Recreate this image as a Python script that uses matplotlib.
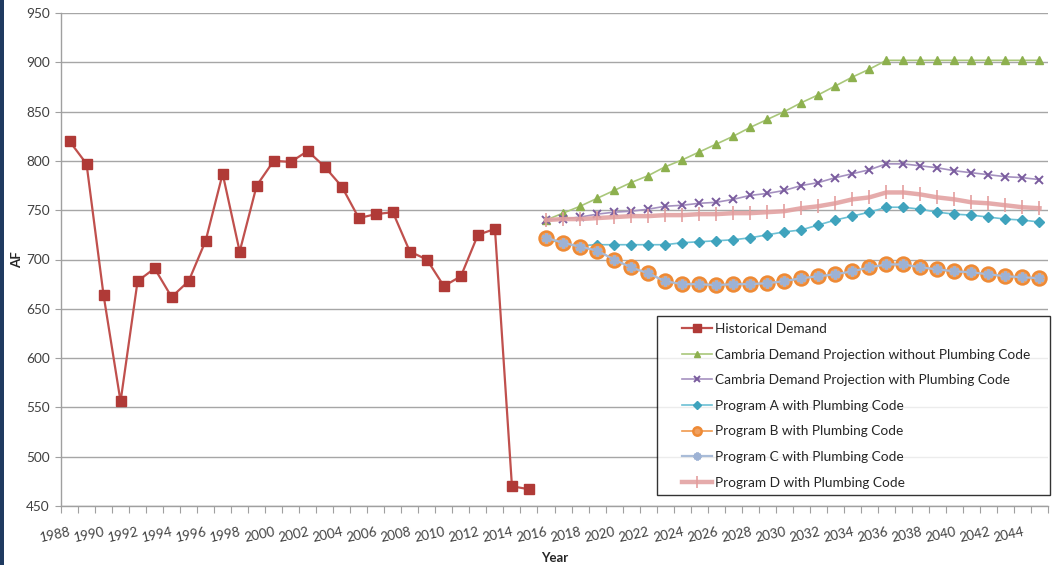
import matplotlib
matplotlib.use("Agg")
import matplotlib.pyplot as plt
from matplotlib.legend_handler import HandlerLine2D
from matplotlib.patches import Rectangle

plt.rcParams['font.family'] = ['Lato', 'DejaVu Sans']

hist_years = list(range(1988, 2016))
hist_vals = [820, 797, 664, 556, 678, 691, 662, 678, 719, 787, 708, 775, 800, 799,
             810, 794, 774, 742, 746, 748, 708, 700, 673, 683, 725, 731, 470, 467]

proj_years = list(range(2016, 2046))
no_code = [740, 747, 754, 762, 770, 778, 785, 794, 801, 809, 817, 825, 834, 842, 850,
           859, 867, 876, 885, 893, 902, 902, 902, 902, 902, 902, 902, 902, 902, 902]
with_code = [740, 741, 743, 746, 748, 749, 751, 754, 755, 757, 758, 761, 765, 767, 770,
             775, 778, 783, 787, 791, 797, 797, 795, 793, 790, 788, 786, 784, 783, 781]
prog_a = [721, 716, 714, 715, 715, 715, 715, 715, 717, 718, 719, 720, 722, 725, 728,
          730, 735, 740, 744, 748, 753, 753, 751, 748, 746, 745, 743, 741, 740, 738]
prog_b = [722, 717, 713, 709, 700, 692, 686, 678, 675, 675, 674, 675, 675, 676, 678,
          681, 683, 685, 688, 692, 695, 695, 692, 690, 688, 687, 685, 683, 682, 681]
prog_c = prog_b
prog_d = [740, 741, 741, 742, 743, 744, 744, 745, 745, 746, 746, 747, 747, 748, 749,
          752, 754, 757, 761, 763, 768, 768, 766, 763, 761, 758, 757, 755, 753, 752]

labels = ["Historical Demand",
          "Cambria Demand Projection without Plumbing Code",
          "Cambria Demand Projection with Plumbing Code",
          "Program A with Plumbing Code",
          "Program B with Plumbing Code",
          "Program C with Plumbing Code",
          "Program D with Plumbing Code"]

fig = plt.figure(figsize=(10.56, 5.65), dpi=100)
fig.patches.append(Rectangle((0, 0), 4/1056, 1, transform=fig.transFigure,
                             facecolor='#1F3A60', edgecolor='none'))
ax = fig.add_axes([61/1056, 59/565, 987/1056, 493/565])

l1, = ax.plot(hist_years, hist_vals, color='#C0504D', lw=1.6, marker='s', ms=7.5,
              mfc='#B03A37', mec='#B03A37', label=labels[0], zorder=3)
l2, = ax.plot(proj_years, no_code, color='#A9C77A', lw=1.2, marker='^', ms=6,
              mfc='#8DB04E', mec='#8DB04E', label=labels[1], zorder=3)
l3, = ax.plot(proj_years, with_code, color='#A591C0', lw=1.2, marker='x', ms=6, mew=1.4,
              mec='#7A5C9E', label=labels[2], zorder=3)
l4, = ax.plot(proj_years, prog_a, color='#6CC0D4', lw=1.2, marker='D', ms=5,
              mfc='#3FA3BD', mec='#3FA3BD', label=labels[3], zorder=3)
l5, = ax.plot(proj_years, prog_b, color='#F09A4E', lw=1.2, marker='o', ms=10,
              mfc='#F0A060', mec='#EE8A35', mew=1.8, label=labels[4], zorder=3)
l6, = ax.plot(proj_years, prog_c, color='#A9BCD8', lw=1.6, marker=(6, 2, 0), ms=7, mew=2.2,
              mec='#9DB2D4', label=labels[5], zorder=3)
l7, = ax.plot(proj_years, prog_d, color='#E3A2A2', lw=3.2, marker='|', ms=10, mew=1.3,
              mec='#E39C9C', label=labels[6], zorder=3, alpha=0.9)

ax.set_xlim(1987.5, 2045.5)
ax.set_ylim(450, 950)
ax.set_yticks(range(450, 951, 50))
ax.set_xticks([y + 0.5 for y in range(1987, 2046)], minor=False)
ax.set_xticklabels([])
ax.set_xticks(range(1988, 2045, 2), minor=True)
ax.set_xticklabels([str(y) for y in range(1988, 2045, 2)], minor=True)
ax.tick_params(axis='x', which='major', length=5, width=0.8, color='#A0A0A0', direction='out')
ax.tick_params(axis='x', which='minor', length=0, pad=14, labelsize=9.6, labelcolor='#404040')
ax.tick_params(axis='y', length=4, width=0.8, color='#A0A0A0', labelsize=9.8,
               labelcolor='#404040', pad=4)
for t in ax.get_xticklabels(minor=True):
    t.set_rotation(12)
    t.set_ha('right')
    t.set_va('top')
    t.set_rotation_mode('anchor')

ax.grid(axis='y', color='#A6A6A6', lw=1.0)
ax.set_axisbelow(True)
for s in ['top', 'right']:
    ax.spines[s].set_visible(False)
for s in ['left', 'bottom']:
    ax.spines[s].set_color('#A0A0A0')
    ax.spines[s].set_linewidth(1.0)

ax.set_ylabel('AF', fontsize=9.5, fontweight='bold', color='#262626', labelpad=2)
ax.set_xlabel('Year', fontsize=9.5, fontweight='bold', color='#262626', labelpad=6)

handles = [l1, l2, l3, l4, l5, l6, l7]
leg = ax.legend(handles=handles, loc='upper left',
                bbox_to_anchor=(0.604, 0.385, 0.398, 0.0), mode='expand',
                fontsize=9.8, frameon=True, fancybox=False, edgecolor='black',
                borderpad=0.5, labelspacing=1.0, handlelength=3.55, handletextpad=0.22,
                handler_map={l: HandlerLine2D(xpad=1.34) for l in handles},
                borderaxespad=0)
leg.get_frame().set_linewidth(1.0)
scales = [0.8, 0.8, 0.8, 0.8, 0.6, 0.8, 0.8]
for h, sc in zip(leg.legend_handles, scales):
    try:
        h.set_markersize(h.get_markersize() * sc)
    except Exception:
        pass
for t in leg.get_texts():
    t.set_color('#262626')

fig.savefig('out.png', dpi=100)
